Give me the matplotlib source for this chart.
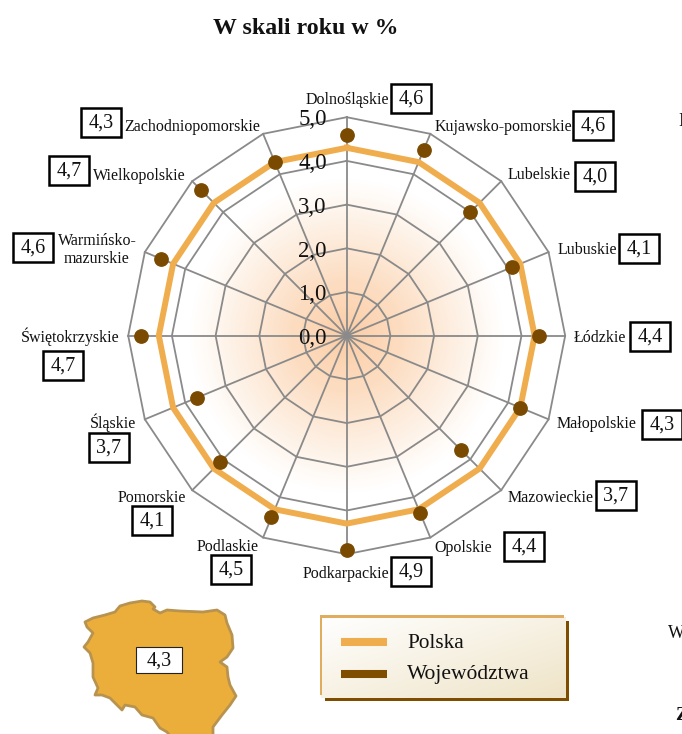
#!/usr/bin/env python3
"""
Radar chart: W skali roku w % (wojewodztwa vs Polska)
"""

import matplotlib
matplotlib.use('Agg')
import matplotlib.pyplot as plt
from matplotlib.colors import LinearSegmentedColormap
from matplotlib.patches import Polygon, Rectangle
import numpy as np

plt.rcParams['font.family'] = ['Liberation Serif', 'DejaVu Serif']

# data
regions = ['Dolnośląskie', 'Kujawsko-pomorskie', 'Lubelskie', 'Lubuskie',
           'Łódzkie', 'Małopolskie', 'Mazowieckie', 'Opolskie',
           'Podkarpackie', 'Podlaskie', 'Pomorskie', 'Śląskie',
           'Świętokrzyskie', 'Warmińsko-\nmazurskie', 'Wielkopolskie',
           'Zachodniopomorskie']
region_values = [4.6, 4.6, 4.0, 4.1, 4.4, 4.3, 3.7, 4.4,
                 4.9, 4.5, 4.1, 3.7, 4.7, 4.6, 4.7, 4.3]
poland_values = [4.3, 4.3, 4.3, 4.3, 4.3, 4.3, 4.3, 4.3,
                 4.3, 4.3, 4.3, 4.3, 4.3, 4.3, 4.3, 4.3]
grid_values = [1.0, 2.0, 3.0, 4.0, 5.0]
tick_values = [0.0, 1.0, 2.0, 3.0, 4.0, 5.0]
poland_total = 4.3

# layout in reference pixels (name label centre, value box centre)
label_xy = [(347, 100), (503, 127), (539, 175), (587, 250),
            (600, 338), (597, 424), (551, 498), (463, 548),
            (346, 574), (228, 547), (152, 498), (113, 423),
            (70, 337), (97, 250), (139, 176), (192, 127)]
box_xy = [(411, 98), (593, 125), (595, 176), (639, 248),
          (650, 336), (662, 424), (616, 495), (524, 546),
          (411, 571), (231, 569), (152, 520), (109, 447),
          (63, 365), (33, 247), (69, 170), (101, 122)]

# rough outline of the country, reference pixels
outline_x = [85, 93, 105, 115, 120, 130, 142, 150, 155, 153, 160, 167, 180,
             203, 217, 225, 227, 232, 233, 227, 220, 227, 228, 230, 236, 230,
             222, 213, 213, 210, 173, 167, 160, 153, 142, 135, 125, 122, 117,
             110, 102, 95, 98, 93, 93, 90, 84, 88, 93, 87]
outline_y = [622, 618, 615, 612, 606, 603, 601, 602, 607, 609, 613, 610, 611,
             612, 610, 615, 623, 635, 648, 657, 662, 667, 677, 685, 696, 705,
             715, 727, 740, 740, 740, 732, 728, 718, 715, 707, 705, 710, 705,
             698, 695, 695, 688, 677, 663, 653, 647, 642, 633, 627]

W, H = 682, 734
CX, CY, R = 346.7, 335.7, 218.5
GREY = '#8a8a8a'
ORANGE = '#f0ad4e'
BROWN = '#7a4a00'


def value_text(v):
    return f'{v:.1f}'.replace('.', ',')


def main():
    fig = plt.figure(figsize=(W / 100, H / 100), dpi=100, facecolor='white')

    # pixel overlay for labels, boxes, legend and the map
    over = fig.add_axes([0, 0, 1, 1])
    over.set_xlim(0, W)
    over.set_ylim(H, 0)
    over.axis('off')

    # radar
    ax = fig.add_axes([(CX - R) / W, 1 - (CY + R) / H, 2 * R / W, 2 * R / H],
                      projection='polar')
    ax.set_theta_zero_location('N')
    ax.set_theta_direction(-1)
    ax.set_rlim(0, 5)
    ax.set_axis_off()
    ax.patch.set_alpha(0)

    # soft glow in the middle
    th = np.linspace(0, 2 * np.pi, 181)
    rr = np.linspace(0, 3.9, 80)
    glow = LinearSegmentedColormap.from_list(
        'glow', ['#fbcda6', '#fcdcc0', '#fdeee0', '#ffffff'])
    ax.pcolormesh(th, rr, np.tile(rr[:-1], (180, 1)).T, cmap=glow,
                  vmin=0, vmax=3.6, shading='flat', zorder=0)

    angles = np.linspace(0, 2 * np.pi, len(regions), endpoint=False)
    closed = np.append(angles, angles[0])

    for a in angles:
        ax.plot([a, a], [0, 5], color=GREY, lw=1.3, zorder=1, clip_on=False)
    for g in grid_values:
        ax.plot(closed, [g] * len(closed), color=GREY, lw=1.3, zorder=1,
                clip_on=False)

    ax.plot(closed, poland_values + poland_values[:1], color=ORANGE, lw=4.3,
            solid_joinstyle='miter', zorder=2)
    ax.plot(angles, region_values, ls='none', marker='o', ms=9.6, color=BROWN,
            mec=BROWN, zorder=3, clip_on=False)

    for t in tick_values:
        ax.annotate(value_text(t), xy=(0, t), xytext=(-14.4, -2),
                    textcoords='offset points', ha='right', va='center',
                    fontsize=16.5, color='#111111', zorder=4,
                    annotation_clip=False)

    # names and value boxes
    for name, (lx, ly), (bx, by), v in zip(regions, label_xy, box_xy,
                                           region_values):
        over.text(lx, ly, name, ha='center', va='center', fontsize=11.5,
                  color='#111111', linespacing=1.2)
        over.add_patch(Rectangle((bx - 20, by - 14.5), 40, 29, fc='white',
                                 ec='black', lw=1.8))
        over.text(bx, by + 1, value_text(v), ha='center', va='center',
                  fontsize=14.5, color='#111111')

    over.text(306, 28, 'W skali roku w %', ha='center', va='center',
              fontsize=17.2, fontweight='bold', color='#111111')

    # map of Poland
    over.add_patch(Polygon(np.column_stack([outline_x, outline_y]),
                           closed=True, fc='#ecae3a', ec='#b8934f', lw=2,
                           joinstyle='round'))
    over.add_patch(Rectangle((136, 647), 46, 26, fc='white', ec='#222222',
                             lw=0.8))
    over.text(159, 661, value_text(poland_total), ha='center', va='center',
              fontsize=14.5, color='#111111')

    # legend panel
    over.add_patch(Rectangle((325, 621), 244, 80, fc='#7f4d00', ec='none'))
    grad = np.add.outer(np.linspace(0, 1, 60), np.linspace(0, 1, 120)) / 2
    panel = LinearSegmentedColormap.from_list('panel', ['#ffffff', '#efe4c8'])
    over.imshow(grad, cmap=panel, extent=(321, 566, 698, 617), aspect='auto',
                zorder=1.5)
    over.set_xlim(0, W)
    over.set_ylim(H, 0)
    over.add_patch(Rectangle((320, 615), 244, 3, fc='#e0ac5e', ec='none',
                             zorder=2))
    over.add_patch(Rectangle((320, 615), 2, 80, fc='#e0ac5e', ec='none',
                             zorder=2))
    over.plot([341, 386.5], [642, 642], color=ORANGE, lw=5.8,
              solid_capstyle='butt', zorder=3)
    over.plot([341, 386.5], [674, 674], color='#7f4d00', lw=5.8,
              solid_capstyle='butt', zorder=3)
    over.text(407, 644, 'Polska', va='center', fontsize=15.3, color='#111111',
              zorder=3)
    over.text(407, 675, 'Województwa', va='center', fontsize=15.5,
              color='#111111', zorder=3)

    # bits of the neighbouring page column, cut by the edge
    over.text(678, 121, 'I', va='center', fontsize=13, color='#111111')
    over.text(668, 633, 'W', va='center', fontsize=13, color='#111111')
    over.text(675, 716, 'Z', va='center', fontsize=14, fontweight='bold',
              color='#111111')

    fig.savefig('out.png', dpi=100)


if __name__ == "__main__":
    main()
